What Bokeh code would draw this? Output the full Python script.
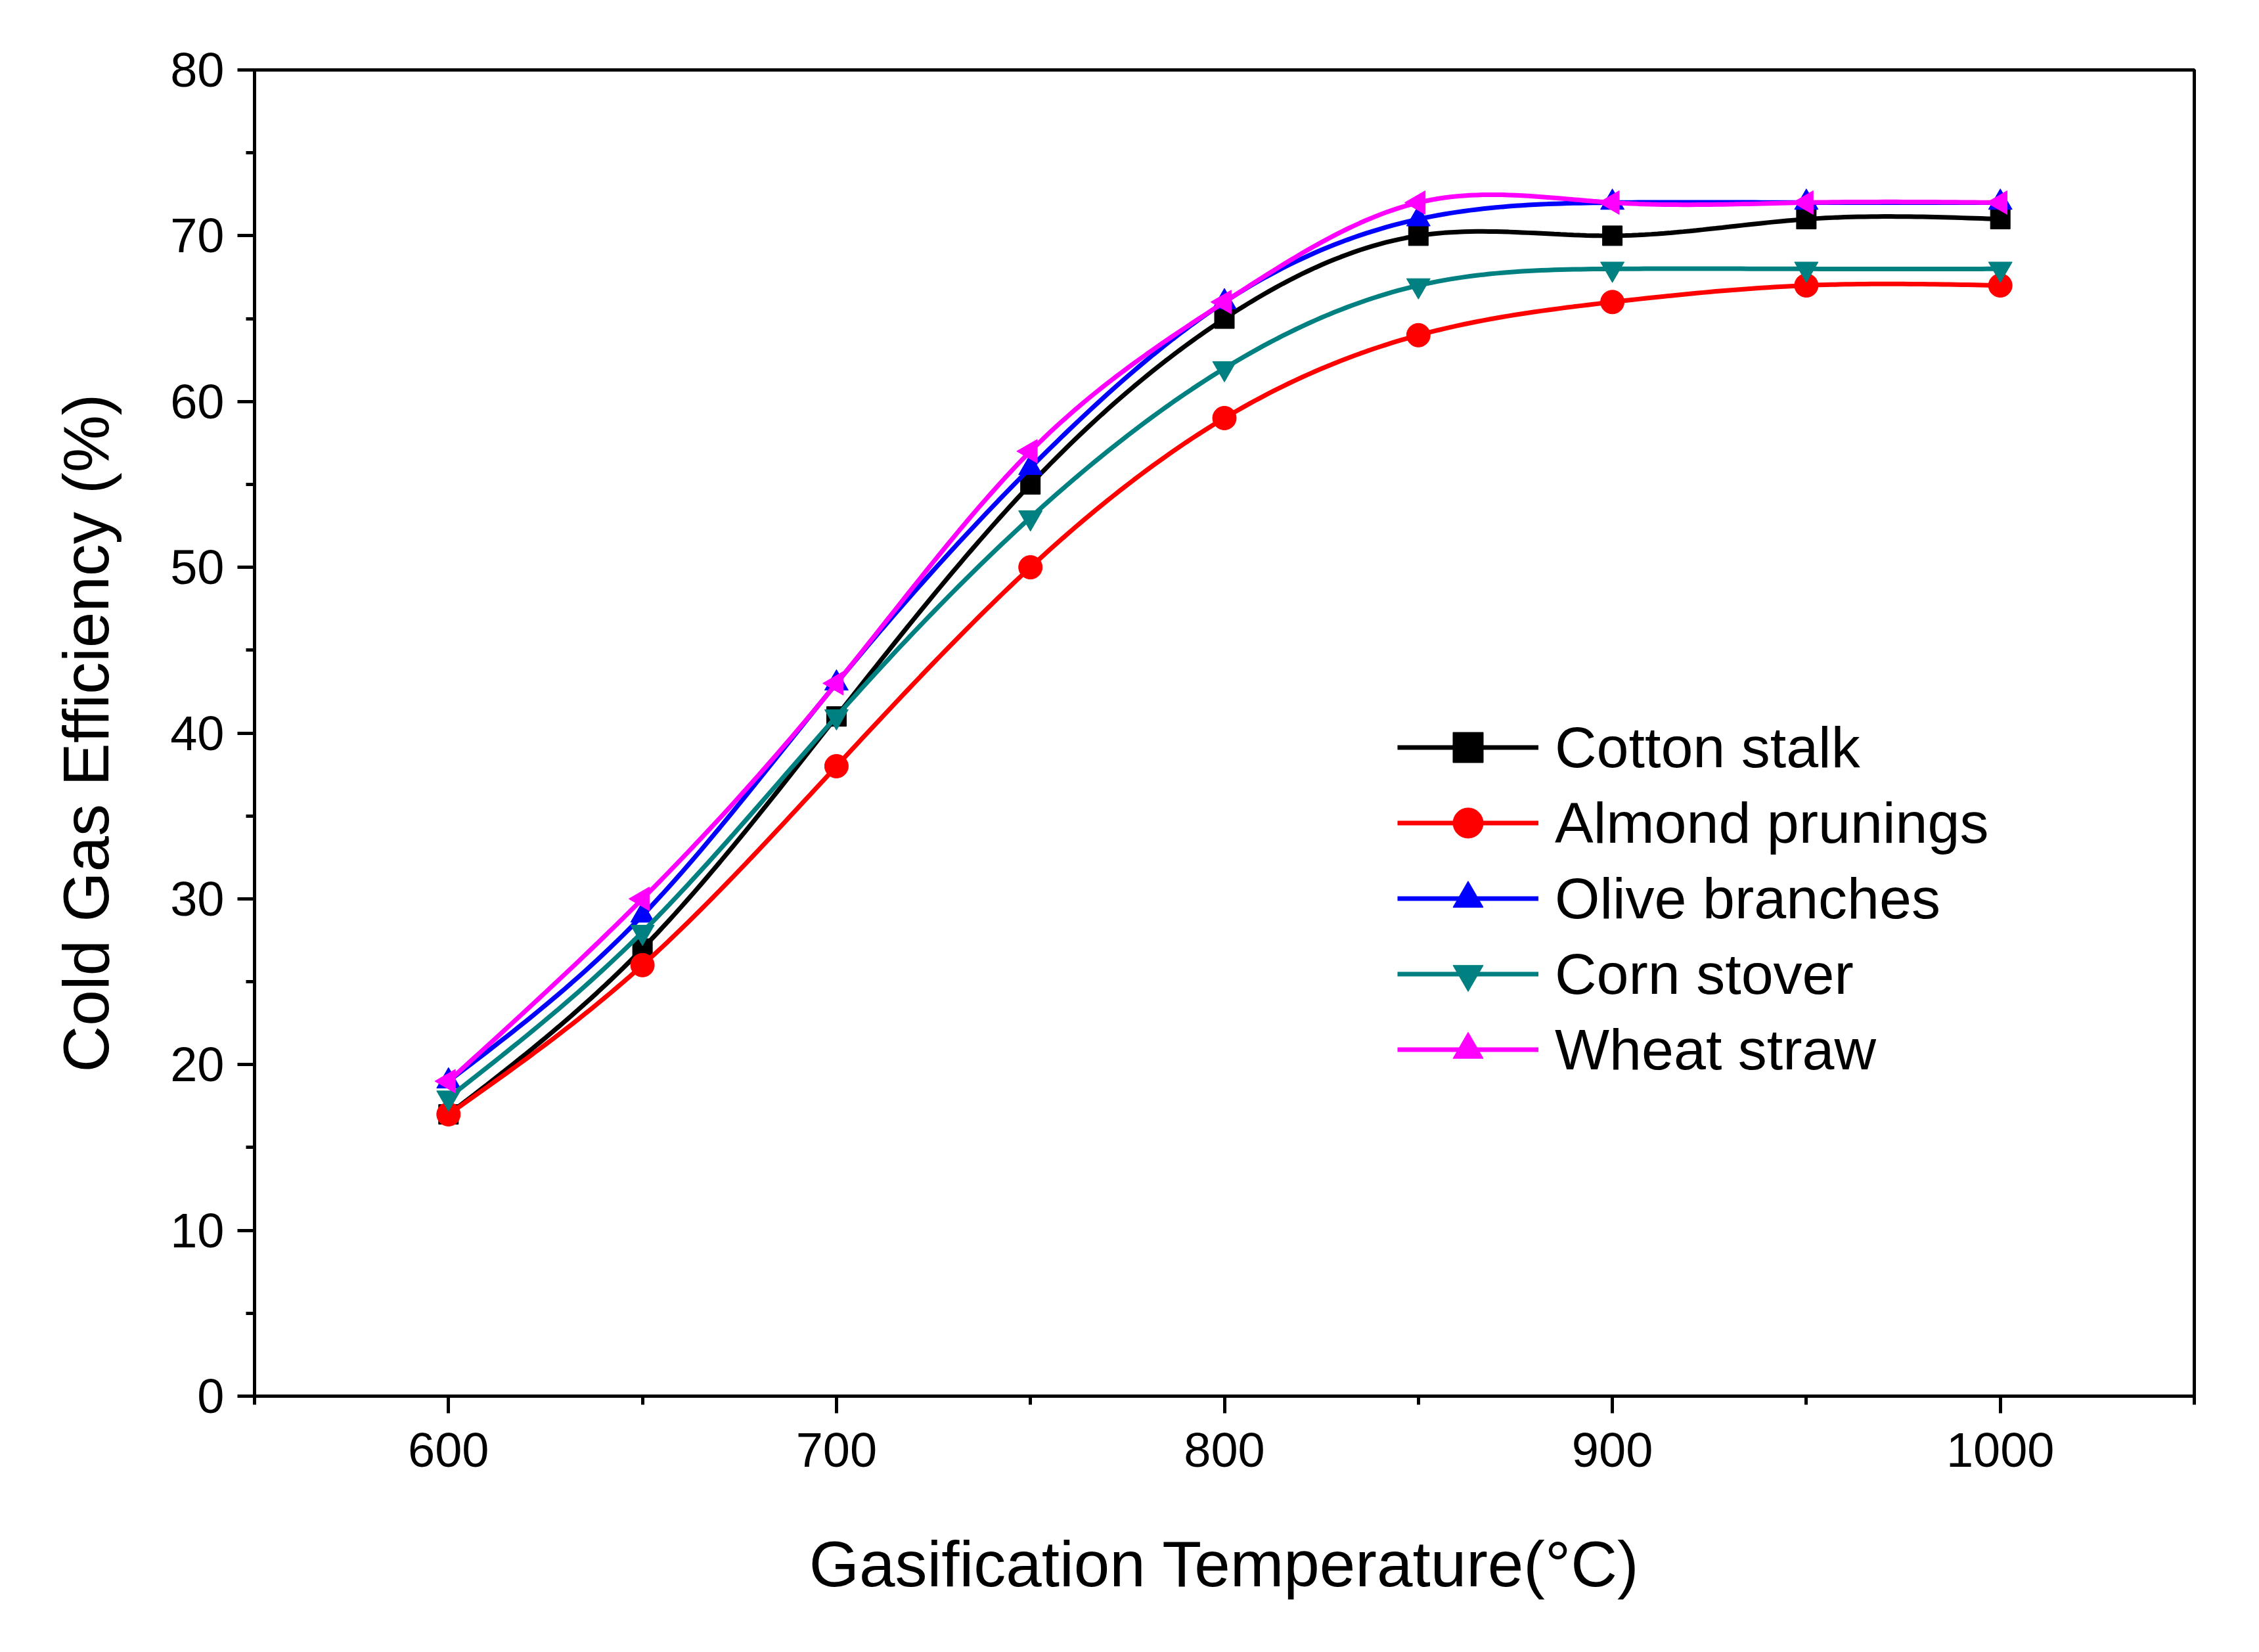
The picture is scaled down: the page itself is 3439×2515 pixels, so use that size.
import numpy as np
from bokeh.plotting import figure
from bokeh.models import FixedTicker, Range1d, Legend, LegendItem
from bokeh.embed import file_html
from bokeh.resources import INLINE

temps = [600, 650, 700, 750, 800, 850, 900, 950, 1000]
cotton = [17, 27, 41, 55, 65, 70, 70, 71, 71]
almond = [17, 26, 38, 50, 59, 64, 66, 67, 67]
olive = [19, 29, 43, 56, 66, 71, 72, 72, 72]
corn = [18, 28, 41, 53, 62, 67, 68, 68, 68]
wheat = [19, 30, 43, 57, 66, 72, 72, 72, 72]

def spline(x, y, n=30):
    x = np.asarray(x, float); y = np.asarray(y, float)
    m = len(x); h = np.diff(x)
    A = np.zeros((m, m)); b = np.zeros(m)
    A[0, 0] = A[-1, -1] = 1
    for i in range(1, m - 1):
        A[i, i - 1] = h[i - 1]; A[i, i] = 2 * (h[i - 1] + h[i]); A[i, i + 1] = h[i]
        b[i] = 3 * ((y[i + 1] - y[i]) / h[i] - (y[i] - y[i - 1]) / h[i - 1])
    c = np.linalg.solve(A, b)
    xs, ys = [], []
    for i in range(m - 1):
        bb = (y[i + 1] - y[i]) / h[i] - h[i] * (2 * c[i] + c[i + 1]) / 3
        d = (c[i + 1] - c[i]) / (3 * h[i])
        t = np.linspace(0, h[i], n, endpoint=False)
        xs.extend(x[i] + t); ys.extend(y[i] + bb * t + c[i] * t**2 + d * t**3)
    xs.append(x[-1]); ys.append(y[-1])
    return xs, ys

p = figure(width=3420, height=2495, output_backend="svg", toolbar_location=None,
           x_range=Range1d(550, 1050), y_range=Range1d(0, 80),
           min_border_left=387, min_border_top=106, min_border_right=80, min_border_bottom=370)
p.grid.visible = False
p.outline_line_color = "black"; p.outline_line_width = 5
p.xaxis.ticker = FixedTicker(ticks=[600, 700, 800, 900, 1000], minor_ticks=list(range(550, 1051, 50)))
p.yaxis.ticker = FixedTicker(ticks=list(range(0, 81, 10)), minor_ticks=list(range(0, 81, 5)))
for ax in (p.xaxis, p.yaxis):
    ax.axis_line_width = 5
    ax.major_tick_line_width = 5; ax.minor_tick_line_width = 5
    ax.major_tick_out = 26; ax.major_tick_in = 0
    ax.minor_tick_out = 13; ax.minor_tick_in = 0
    ax.major_label_text_font_size = "74px"
    ax.major_label_text_font = "Arial"
    ax.axis_label_text_font_size = "98px"
    ax.axis_label_text_font = "Arial"
    ax.axis_label_text_font_style = "normal"
    ax.axis_label_text_color = "black"
    ax.major_label_text_color = "black"
p.xaxis.axis_label = "Gasification Temperature(\u00b0C)"
p.yaxis.axis_label = "Cold Gas Efficiency (%)"
p.xaxis.major_label_standoff = 30
p.yaxis.major_label_standoff = 20
p.xaxis.axis_label_standoff = 90
p.yaxis.axis_label_standoff = 70

series = [("Cotton stalk", cotton, "black", "square", 0.0),
          ("Almond prunings", almond, "red", "circle", 0.0),
          ("Olive branches", olive, "blue", "triangle", 0.0),
          ("Corn stover", corn, "#008080", "inverted_triangle", 0.0),
          ("Wheat straw", wheat, "magenta", "triangle", np.pi / 2)]
items = []
for name, ys, col, mk, ang in series:
    sx, sy = spline(temps, ys)
    l = p.line(sx, sy, line_color=col, line_width=7)
    s = p.scatter(x=temps, y=ys, marker=mk, angle=[ang] * len(temps), angle_units="rad",
                  size=36 if mk != "square" else 30, fill_color=col, line_color=col)
    items.append(LegendItem(label=name, renderers=[l, s]))

leg = Legend(items=items, location=(1740, 470), label_text_font_size="88px",
             label_text_font="Arial", label_text_color="black", glyph_width=215, glyph_height=115,
             label_height=115, label_standoff=25, spacing=0, padding=0, border_line_alpha=0,
             background_fill_alpha=0)
p.add_layout(leg)

open("out.html", "w").write(file_html(p, INLINE))
